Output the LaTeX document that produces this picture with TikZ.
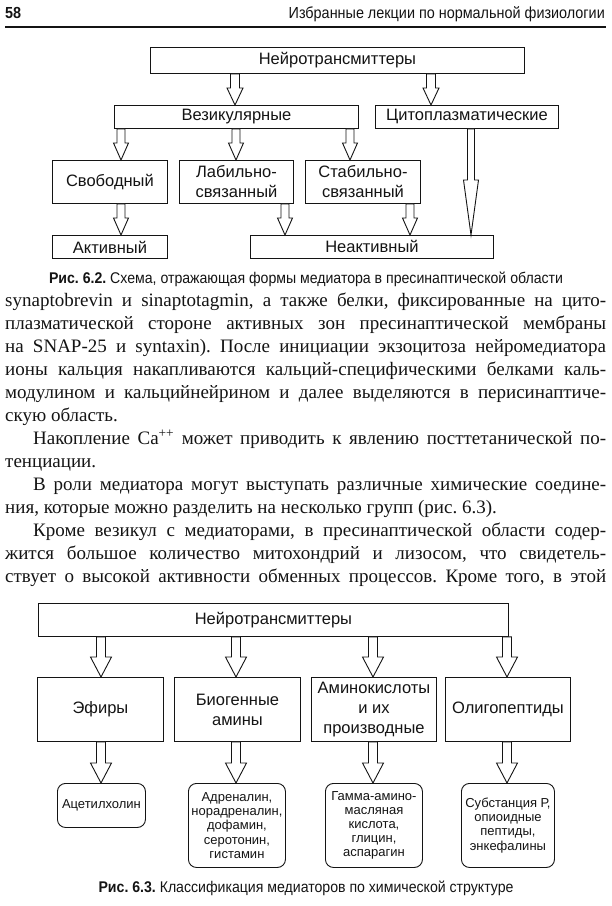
\documentclass[tikz,border=0pt]{standalone}
\usepackage{fontspec}
\setmainfont{Liberation Serif}
\newfontfamily\dsans{Liberation Sans}
\newfontfamily\csans{Liberation Sans}[FakeStretch=0.91]
\newfontfamily\hsans{Liberation Sans}[FakeStretch=0.9]
\usetikzlibrary{calc}
\definecolor{ink}{HTML}{141414}
\frenchspacing
\tikzset{
  box/.style={draw=ink, line width=0.9pt, fill=white, inner sep=0pt, anchor=north west, align=center, text=ink},
  big/.style={font=\dsans\fontsize{16.5}{20}\selectfont},
  small/.style={font=\dsans\fontsize{13}{14.2}\selectfont},
  rbox/.style={box, rounded corners=8pt},
  arrowline/.style={draw=ink, line width=0.9pt, fill=white, line join=miter},
  bodyline/.style={anchor=base west, inner sep=0pt, text=ink, font=\fontsize{19}{23}\selectfont},
  capt/.style={anchor=base, inner sep=0pt, text=ink, font=\csans\fontsize{15.5}{18}\selectfont},
}
% #1 x, #2 from node, #3 to node, #4 shaft half width, #5 head half width, #6 head length
\newcommand\barr[6]{%
  \path (#1,0 |- #2.south) coordinate (A) (#1,0 |- #3.north) coordinate (T);
  \draw[arrowline] ([xshift=-#4pt]A) -- ([xshift=-#4pt,yshift=#6pt]T) -- ([xshift=-#5pt,yshift=#6pt]T) -- (T)
    -- ([xshift=#5pt,yshift=#6pt]T) -- ([xshift=#4pt,yshift=#6pt]T) -- ([xshift=#4pt]A) -- cycle;
}
\begin{document}
\begin{tikzpicture}[x=1pt,y=-1pt]
\useasboundingbox[fill=white] (0,0) rectangle (612,906);
% header
\node[anchor=base west, inner sep=0pt, text=ink, font=\hsans\bfseries\fontsize{16}{18}\selectfont] (pg) at (5,18) {58};
\node[anchor=base east, inner sep=0pt, text=ink, font=\hsans\fontsize{16}{18}\selectfont] (ttl) at (605,18) {Избранные лекции по нормальной физиологии};
\coordinate (rl) at (5,27);
\coordinate (rr) at (606,27);
\draw[ink, line width=1.2pt] (rl) -- (rr);

% ---------- Figure 6.2 ----------
\node[box, big, minimum width=374pt, minimum height=26pt] (n1) at (150,47) {Нейротрансмиттеры};
\node[box, big, minimum width=244pt, minimum height=23pt] (ves) at (114,105) {Везикулярные};
\node[box, big, minimum width=183pt, minimum height=23pt] (cyt) at (375,105) {Цитоплазматические};
\node[box, big, minimum width=115pt, minimum height=43pt] (svob) at (52,160) {Свободный};
\node[box, big, minimum width=114pt, minimum height=43pt] (lab) at (179,160) {Лабильно-\\связанный};
\node[box, big, minimum width=115pt, minimum height=43pt] (stab) at (305,160) {Стабильно-\\связанный};
\node[box, big, minimum width=115pt, minimum height=23pt] (akt) at (52,235) {Активный};
\node[box, big, minimum width=243pt, minimum height=23pt] (neakt) at (250,235) {Неактивный};

\barr{235}{n1}{ves}{4.5}{8}{17}
\barr{431}{n1}{cyt}{4.5}{8}{17}
\barr{121}{ves}{svob}{4}{7.5}{17}
\barr{236}{ves}{lab}{4}{7.5}{17}
\barr{350}{ves}{stab}{4}{7.5}{17}
\barr{121}{svob}{akt}{4}{7.5}{17}
\barr{285}{lab}{neakt}{4}{7.5}{17}
\barr{410}{stab}{neakt}{4}{7.5}{17}
\barr{471}{cyt}{neakt}{3.5}{7.5}{55}

\node[capt] (cap1) at (306,283) {\textbf{Рис. 6.2.} Схема, отражающая формы медиатора в пресинаптической области};

% ---------- body text ----------
\node[bodyline] (l1) at (5,306) {\makebox[601pt][s]{synaptobrevin и sinaptotagmin, а также белки, фиксированные на цито-}};
\node[bodyline] (l2) at (5,329) {\makebox[601pt][s]{плазматической стороне активных зон пресинаптической мембраны}};
\node[bodyline] (l3) at (5,352) {\makebox[601pt][s]{на SNAP-25 и syntaxin). После инициации экзоцитоза нейромедиатора}};
\node[bodyline] (l4) at (5,375) {\makebox[601pt][s]{ионы кальция накапливаются кальций-специфическими белками каль-}};
\node[bodyline] (l5) at (5,398) {\makebox[601pt][s]{модулином и кальцийнейрином и далее выделяются в перисинаптиче-}};
\node[bodyline] (l6) at (5,421) {скую область.};
\node[bodyline] (l7) at (33,444) {\makebox[573pt][s]{Накопление Ca\textsuperscript{++} может приводить к явлению посттетанической по-}};
\node[bodyline] (l8) at (5,467) {тенциации.};
\node[bodyline] (l9) at (33,490) {\makebox[573pt][s]{В роли медиатора могут выступать различные химические соедине-}};
\node[bodyline] (l10) at (5,513) {ния, которые можно разделить на несколько групп (рис. 6.3).};
\node[bodyline] (l11) at (33,536) {\makebox[573pt][s]{Кроме везикул с медиаторами, в пресинаптической области содер-}};
\node[bodyline] (l12) at (5,559) {\makebox[601pt][s]{жится большое количество митохондрий и лизосом, что свидетель-}};
\node[bodyline] (l13) at (5,582) {\makebox[601pt][s]{ствует о высокой активности обменных процессов. Кроме того, в этой}};

% ---------- Figure 6.3 ----------
\node[box, big, minimum width=470pt, minimum height=33pt] (m1) at (38,603) {Нейротрансмиттеры};
\node[box, big, minimum width=126pt, minimum height=64pt] (ef) at (37,677) {Эфиры};
\node[box, big, minimum width=126pt, minimum height=64pt] (bio) at (174,677) {Биогенные\\амины};
\node[box, big, minimum width=125pt, minimum height=64pt] (ami) at (311,677) {Аминокислоты\\и их\\производные};
\node[box, big, minimum width=125pt, minimum height=64pt] (oli) at (445,677) {Олигопептиды};

\node[rbox, small, minimum width=88pt, minimum height=44pt] (ace) at (57,783) {Ацетилхолин};
\node[rbox, small, minimum width=97pt, minimum height=84pt] (adr) at (188,783) {Адреналин,\\норадреналин,\\дофамин,\\серотонин,\\гистамин};
\node[rbox, small, minimum width=97pt, minimum height=84pt] (gam) at (325,783) {Гамма-амино-\\масляная\\кислота,\\глицин,\\аспарагин};
\node[rbox, small, minimum width=93pt, minimum height=84pt] (sub) at (461,783) {Субстанция Р,\\опиоидные\\пептиды,\\энкефалины};

\barr{101}{m1}{ef}{4.5}{10.5}{20}
\barr{236}{m1}{bio}{4.5}{10.5}{20}
\barr{373}{m1}{ami}{4.5}{10.5}{20}
\barr{507}{m1}{oli}{4.5}{10.5}{20}
\barr{101}{ef}{ace}{4.5}{10.5}{20}
\barr{236}{bio}{adr}{4.5}{10.5}{20}
\barr{373}{ami}{gam}{4.5}{10.5}{20}
\barr{507}{oli}{sub}{4.5}{10.5}{20}

\node[capt] (cap2) at (306,892) {\textbf{Рис. 6.3.} Классификация медиаторов по химической структуре};
\end{tikzpicture}
\end{document}
